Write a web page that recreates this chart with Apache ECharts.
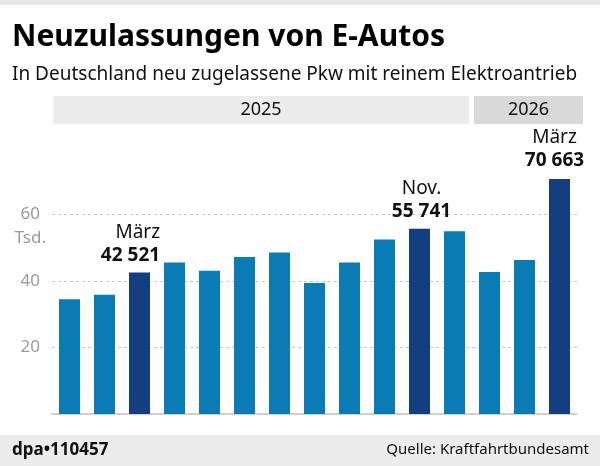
<!DOCTYPE html>
<html><head><meta charset="utf-8">
<script src="https://cdn.jsdelivr.net/npm/echarts@6/dist/echarts.min.js"></script>
<style>html,body{margin:0;padding:0;background:#fff}#c{width:600px;height:466px}</style>
</head><body><div id="c"></div>
<script>
const months = ['Jan','Feb','März','Apr','Mai','Jun','Jul','Aug','Sep','Okt','Nov.','Dez','Jan','Feb','März'];
const years = ['2025','2025','2025','2025','2025','2025','2025','2025','2025','2025','2025','2025','2026','2026','2026'];
const values = [34.5, 35.9, 42.521, 45.6, 43.1, 47.2, 48.6, 39.4, 45.6, 52.5, 55.741, 55.0, 42.7, 46.3, 70.663];
const highlighted = [2, 10, 14];
const highlightText = ['42 521', '55 741', '70 663'];
const yTicks = [20, 40, 60];
const yearGroups = [{label:'2025', from:0, to:11}, {label:'2026', from:12, to:14}];

const FONT = 'Noto Sans';
const chart = echarts.init(document.getElementById('c'), null, {renderer:'canvas'});

const labelOffsets = {2:[-9,-1], 10:[2,-1], 14:[-5,-2]};
const data = values.map((v,i)=>{
  const hi = highlighted.indexOf(i);
  const item = {value:v, itemStyle:{color: hi>=0 ? '#133f80' : '#0a7bb4'}};
  if (hi>=0) {
    item.label = {
      show:true, position:'top', offset: labelOffsets[i],
      formatter: '{m|' + months[i] + '}\n{v|' + highlightText[hi] + '}',
      align: 'center',
      rich:{
        m:{fontFamily:FONT, fontSize:19, color:'#111', lineHeight:23, align: i===2?'right':'center'},
        v:{fontFamily:FONT, fontSize:19, fontWeight:'bold', color:'#111', lineHeight:23, align: i===2?'right':'center'}
      }
    };
  }
  return item;
});

const option = {
  animation:false,
  grid:{left:52, right:23, top:148, bottom:52},
  xAxis:{type:'category', data:months.map((m,i)=>m+' '+years[i]),
    axisLine:{show:true, lineStyle:{color:'#d0d0d0', width:2}},
    axisTick:{show:false}, axisLabel:{show:false}},
  yAxis:{type:'value', min:0, max:80, interval:20,
    axisLine:{show:false}, axisTick:{show:false},
    axisLabel:{fontFamily:FONT, fontSize:17, color:'#9a9a9a', margin:12,
      formatter: v => yTicks.indexOf(v)>=0 ? String(v) : ''},
    splitLine:{show:true, lineStyle:{type:[3,3], width:1,
      color:['rgba(0,0,0,0)','#c8c8c8','#c8c8c8','#c8c8c8','rgba(0,0,0,0)']}}},
  series:[{type:'bar', data:data, barCategoryGap:'40%', clip:false}],
  graphic:[]
};
chart.setOption(option);

// decorative header bands and texts, positioned from the axis scales
const c0 = chart.convertToPixel({xAxisIndex:0}, 0);
const c1 = chart.convertToPixel({xAxisIndex:0}, 1);
const bw = c1 - c0;
const g = [];
g.push({type:'rect', shape:{x:0,y:0,width:600,height:5}, style:{fill:'#e6e6e6'}});
yearGroups.forEach((grp, k)=>{
  const a = chart.convertToPixel({xAxisIndex:0}, grp.from) - bw/2 + (k===0?1:2);
  const b = chart.convertToPixel({xAxisIndex:0}, grp.to) + bw/2 + (k===0?-3:6);
  g.push({type:'rect', shape:{x:a, y:96, width:b-a, height:28}, style:{fill: k===0?'#ececec':'#d9d9d9'}});
  g.push({type:'text', x:(a+b)/2, y:110, style:{text:grp.label, font:'18px "'+FONT+'"', fill:'#111', align:'center', verticalAlign:'middle'}});
});
const y60 = chart.convertToPixel({yAxisIndex:0}, 60);
g.push({type:'text', x:46, y:y60+24, style:{text:'Tsd.', font:'17px "'+FONT+'"', fill:'#9a9a9a', align:'right', verticalAlign:'middle'}});
g.push({type:'text', x:12, y:37, style:{text:'Neuzulassungen von E-Autos', font:'bold 30px "'+FONT+'"', fill:'#000', verticalAlign:'middle'}});
g.push({type:'text', x:12, y:75, style:{text:'In Deutschland neu zugelassene Pkw mit reinem Elektroantrieb', font:'19px "'+FONT+'"', fill:'#111', verticalAlign:'middle'}});
g.push({type:'rect', shape:{x:0,y:435,width:600,height:31}, style:{fill:'#ececec'}});
g.push({type:'text', x:12, y:450, style:{text:'dpa\u2022110457', font:'bold 17px "'+FONT+'"', fill:'#111', verticalAlign:'middle'}});
g.push({type:'text', x:589, y:450, style:{text:'Quelle: Kraftfahrtbundesamt', font:'15px "'+FONT+'"', fill:'#111', align:'right', verticalAlign:'middle'}});
chart.setOption({graphic:g});
</script></body></html>
